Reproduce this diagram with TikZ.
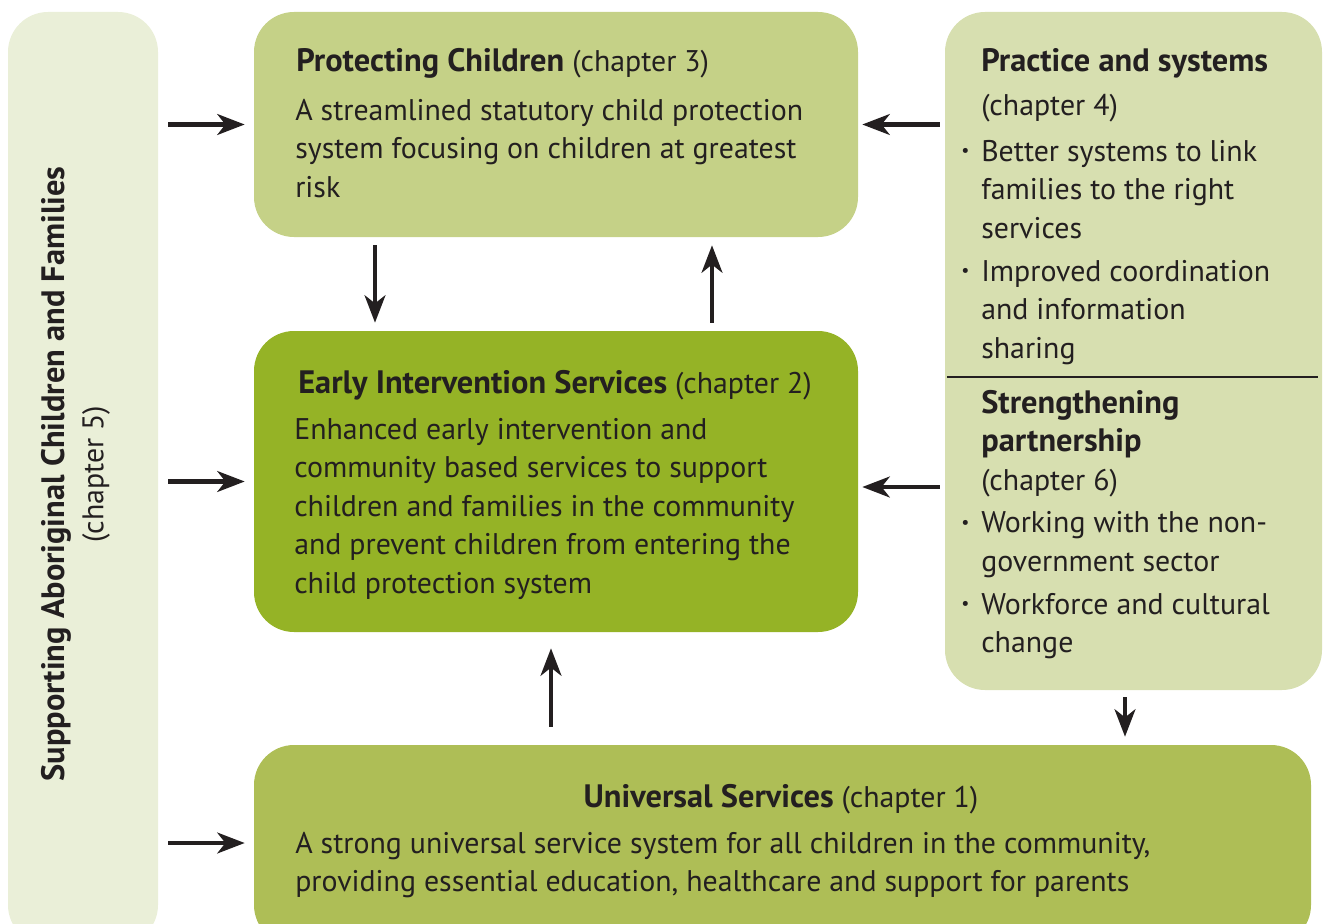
\documentclass[tikz,border=0pt]{standalone}
\usepackage{fontspec}
\usepackage{graphicx}
\setmainfont{PT Sans}[BoldFeatures={Scale=1.085}]
\usetikzlibrary{arrows.meta,fit,calc,positioning}
\definecolor{ink}{HTML}{231F20}
\definecolor{aborigfill}{HTML}{EAEFD8}
\definecolor{protfill}{HTML}{C5D187}
\definecolor{earlyfill}{HTML}{95B326}
\definecolor{practfill}{HTML}{D7DFB0}
\definecolor{univfill}{HTML}{AEBE56}
\newcommand{\bodyfont}{\fontsize{22.4}{28.9}\selectfont}
\newcommand{\rows}[1]{\begin{tabular}[t]{@{}l@{}}#1\end{tabular}}
\newcommand{\bulrows}[1]{\begin{tabular}[t]{@{}p{15pt}@{}l@{}}#1\end{tabular}}
\newcommand{\bul}{\raisebox{.3ex}{\scalebox{.6}{\textbullet}}}
\tikzset{
  box/.style={rounded corners=30pt, inner sep=0pt, draw=none},
  txt/.style={anchor=base west, inner sep=0pt, text=ink, font=\bodyfont},
  flow/.style={draw=ink, line width=3.6pt, -{Stealth[length=20.5pt,width=15.5pt,inset=6pt]}},
  rule/.style={draw=ink, line width=1pt}
}

\begin{document}
\begin{tikzpicture}[x=0.75pt, y=-0.75pt]
  \useasboundingbox (0,0) rectangle (1324,924);
  \clip (0,0) rectangle (1324,924);
  % boxes
  \node[box, fill=aborigfill, fit={(8,12) (158,945)}] (aborig) {};
  \node[box, fill=protfill, fit={(254,12) (858,237)}] (prot) {};
  \node[box, fill=earlyfill, fit={(254,331) (858,632)}] (early) {};
  \node[box, fill=practfill, fit={(945,12) (1322,690)}] (pract) {};
  \node[box, fill=univfill, fit={(254,745) (1311,945)}] (univ) {};
  \draw[rule] (947,377) -- (1318,377);
  % texts
  \node[txt, anchor=center, rotate=90] (aborigLbl) at (76.5,474)
    {\begin{tabular}{@{}c@{}}\textbf{Supporting Aboriginal Children and Families}\\(chapter 5)\end{tabular}};
  \node[txt] (protTitle) at (296,72) {\textbf{Protecting Children} (chapter 3)};
  \node[txt] (protBody) at (295,120) {\rows{A streamlined statutory child protection\\
    system focusing on children at greatest\\ risk}};
  \node[txt] (earlyTitle) at (298,393) {\textbf{Early Intervention Services} (chapter 2)};
  \node[txt] (earlyBody) at (294,439) {\rows{Enhanced early intervention and\\
    community based services to support\\ children and families in the community\\
    and prevent children from entering the\\ child protection system}};
  \node[txt] (practBody) at (961,72) {\bulrows{& \textbf{Practice and systems}\\[4pt]
    & (chapter 4)\\[5pt]
    \bul & Better systems to link\\ & families to the right\\ & services\\[3.5pt]
    \bul & Improved coordination\\ & and information\\ & sharing}};
  \node[txt] (partBody) at (961,413) {\bulrows{& \textbf{Strengthening}\\
    & \textbf{partnership}\\ & (chapter 6)\\[3pt]
    \bul & Working with the non-\\ & government sector\\[3.5pt]
    \bul & Workforce and cultural\\ & change}};
  \node[txt, anchor=base] (univTitle) at (781,807) {\textbf{Universal Services} (chapter 1)};
  \node[txt] (univBody) at (295,853) {\rows{A strong universal service system for all children in the community,\\
    providing essential education, healthcare and support for parents}};
  % arrows
  \draw[flow, shorten <=7.5pt, shorten >=6.75pt] (aborig.east |- prot.west) -- (prot.west);
  \draw[flow, shorten <=7.5pt, shorten >=6.75pt] (aborig.east |- early.west) -- (early.west);
  \draw[flow, shorten <=7.5pt, shorten >=6.75pt] ($(aborig.east |- univ.west)+(0,-2)$) -- ($(univ.west)+(0,-2)$);
  \draw[flow, shorten <=3.75pt, shorten >=3pt] (pract.west |- prot.east) -- (prot.east);
  \draw[flow, shorten <=3.75pt, shorten >=3pt] ($(pract.west |- early.east)+(0,5.5)$) -- ($(early.east)+(0,5.5)$);
  \draw[flow, shorten <=6pt, shorten >=6pt] ($(prot.south)+(-181,0)$) -- ($(early.north)+(-181,0)$);
  \draw[flow, shorten <=6pt, shorten >=6pt] ($(early.north)+(156,0)$) -- ($(prot.south)+(156,0)$);
  \draw[flow, shorten <=13.5pt, shorten >=12pt] ($(univ.north -| early.south)+(-5,0)$) -- ($(early.south)+(-5,0)$);
  \draw[flow, shorten <=5.25pt, shorten >=6pt] ($(pract.south)+(-8.5,0)$) -- ($(univ.north -| pract.south)+(-8.5,0)$);
\end{tikzpicture}
\end{document}
